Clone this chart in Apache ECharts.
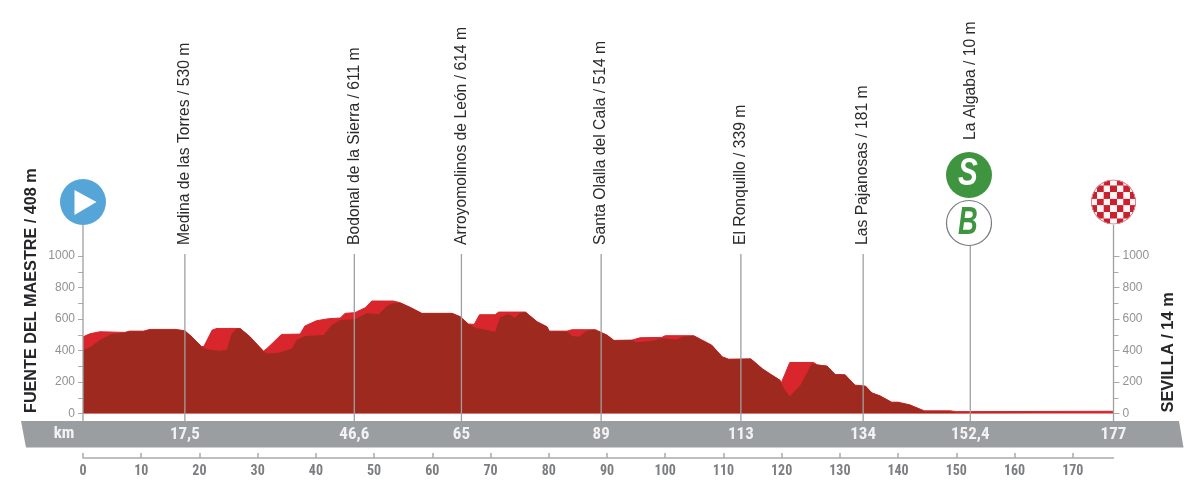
<!DOCTYPE html>
<html><head><meta charset="utf-8">
<style>html,body{margin:0;padding:0;background:#fff}#c{width:1200px;height:489px}</style>
<script src="https://cdn.jsdelivr.net/npm/echarts@6/dist/echarts.min.js"></script>
</head><body><div id="c"></div>
<script>
const profileTop = [[0,487],[1.2,506],[2.9,519],[7.2,515],[8,523],[10.4,523],[11.5,534],[16,534],[17.5,525],[18.7,487],[20.4,424],[20.8,428],[22.2,530],[23,540],[27,540],[28.7,487],[31,396],[31.6,413],[34.1,502],[37.3,504],[38.1,555],[40.1,589],[42.2,602],[44.2,606],[45,636],[46.7,640],[48.5,672],[49.6,714],[53.3,714],[54.5,703],[56.2,674],[58.2,636],[63.4,636],[64.8,615],[66.2,568],[67.2,566],[68.1,627],[70.8,627],[71.4,644],[76,644],[78,583],[79.7,551],[80.1,523],[83.1,523],[84,532],[88,532],[90,498],[91.2,464],[94.3,466],[95.7,481],[99.4,483],[100,494],[104.9,494],[108,434],[109.8,360],[110.9,345],[114.7,347],[116.7,284],[118.1,250],[119.7,212],[119.9,191],[121.4,324],[125.5,324],[126.1,309],[127.8,301],[129.2,248],[130.9,246],[132.6,180],[134.4,174],[135.5,131],[136.9,112],[138.9,72],[140,72],[142,55],[144.5,17],[148.9,17],[150,12],[152.4,12],[177,14]];
const profileShade = [[0,403],[1.2,420],[2.9,466],[4.9,504],[7.2,515],[8,523],[10.4,523],[11.5,534],[16,534],[17.5,525],[18.7,487],[20.4,424],[21.5,407],[23.5,398],[24.7,407],[25.5,504],[26.4,540],[27,540],[28.7,487],[31,396],[31.6,381],[33.6,386],[35.9,413],[36.7,466],[38.1,492],[41.3,498],[42.7,562],[44.2,593],[46.7,598],[48.7,636],[50.8,632],[52.2,682],[53,699],[54.5,703],[56.2,674],[58.2,636],[63.4,636],[64.8,615],[66.2,568],[67.4,545],[69.4,530],[70.8,519],[71.6,610],[73,631],[74.2,608],[75,636],[76,644],[78,583],[79.7,551],[80.1,523],[83.1,523],[84,492],[85.2,487],[86.3,519],[87.2,530],[88,532],[90,498],[91.2,464],[94.3,466],[95.1,453],[97.9,462],[99.4,477],[102,470],[103,487],[104.9,494],[108,434],[109.8,360],[110.9,345],[114.7,347],[116.7,284],[118.1,250],[119.7,212],[120.4,159],[121.4,110],[122.4,148],[123.2,180],[125.2,318],[125.5,324],[126.1,309],[127.8,301],[129.2,248],[130.9,246],[132.6,180],[134.4,174],[135.5,131],[136.9,112],[138.9,72],[140,72],[142,55],[144.5,15],[148.9,15],[150,5],[177,6]];
const passKm = [0,17.5,46.6,65,89,113,134,152.4,177];
const passKmLabels = ['', '17,5','46,6','65','89','113','134','152,4','177'];
const passNames = ['', 'Medina de las Torres / 530 m','Bodonal de la Sierra / 611 m','Arroyomolinos de León / 614 m','Santa Olalla del Cala / 514 m','El Ronquillo / 339 m','Las Pajanosas / 181 m','La Algaba / 10 m',''];
const startLabel = 'FUENTE DEL MAESTRE / 408 m';
const finishLabel = 'SEVILLA / 14 m';
const kmWord = 'km';

const COND = '"Liberation Sans Narrow","Roboto Condensed","Liberation Sans",sans-serif';
const SANS = '"Liberation Sans",Arial,sans-serif';
const GREY = '#9b9ea1', AX = '#a9abae';
const X0 = 83, X1 = 1113.5;

// finish-flag checker drawn on a small canvas
function checker(){
  const s=4, R=23, cv=document.createElement('canvas');
  cv.width=cv.height=2*R*s;
  const g=cv.getContext('2d');
  g.scale(s,s);
  g.beginPath();g.arc(R,R,R-0.5,0,7);g.clip();
  g.fillStyle='#fdf3f3';g.fillRect(0,0,2*R,2*R);
  g.fillStyle='#c8202e';
  const c=6.6;
  for(let i=-4;i<=4;i++)for(let j=-4;j<=4;j++) if(((i+j)%2+2)%2==0) g.fillRect(R+(i-.5)*c,R+(j-.5)*c,c,c);
  g.strokeStyle='#d98a90';g.lineWidth=1;g.beginPath();g.arc(R,R,R-1,0,7);g.stroke();
  return cv;
}

const chart = echarts.init(document.getElementById('c'),null,{renderer:'canvas'});
const yLab = {color:'#909295',fontFamily:SANS,fontSize:12,formatter:v=>String(v)};
chart.setOption({
  animation:false,
  backgroundColor:'#fff',
  grid:{left:X0,right:1200-X1,top:256,bottom:75.5,containLabel:false},
  xAxis:{type:'value',min:0,max:177,interval:10,position:'bottom',offset:44.5,
    axisLine:{show:true,onZero:false,lineStyle:{color:AX,width:1.5}},
    axisTick:{show:true,inside:true,length:5,lineStyle:{color:AX,width:1.5}},
    axisLabel:{color:'#7b7d80',fontFamily:COND,fontWeight:'bold',fontSize:14,margin:6,showMaxLabel:false},
    splitLine:{show:false}},
  yAxis:[
   {type:'value',position:'left',min:0,max:1000,interval:200,
    axisLine:{show:false},
    axisTick:{show:true,length:5,lineStyle:{color:AX,width:1}},
    minorTick:{show:true,splitNumber:2,length:5,lineStyle:{color:AX,width:1}},
    axisLabel:Object.assign({margin:8},yLab),
    splitLine:{show:false}},
   {type:'value',position:'right',min:0,max:1000,interval:200,
    axisLine:{show:false},
    axisTick:{show:true,length:6,lineStyle:{color:AX,width:1}},
    minorTick:{show:true,splitNumber:2,length:5,lineStyle:{color:AX,width:1}},
    axisLabel:Object.assign({margin:9},yLab),
    splitLine:{show:false}}
  ],
  graphic:[
    {type:'polygon',z:0,silent:true,shape:{points:[[21,421],[1179,421],[1183.5,447.5],[26,447.5]]},style:{fill:GREY}},
    {type:'text',z:5,x:64,y:434,silent:true,style:{text:kmWord,fill:'#f2f2f2',font:'bold 17px '+COND,align:'center',verticalAlign:'middle'}},
    {type:'text',z:5,x:32,y:413,rotation:Math.PI/2,silent:true,style:{text:startLabel,fill:'#26262a',font:'bold 16.2px '+SANS,align:'left',verticalAlign:'middle'}},
    {type:'text',z:5,x:1168,y:412.5,rotation:Math.PI/2,silent:true,style:{text:finishLabel,fill:'#26262a',font:'bold 16.4px '+SANS,align:'left',verticalAlign:'middle'}},
    {type:'circle',z:5,silent:true,shape:{cx:83,cy:202,r:23},style:{fill:'#55a5d8'}},
    {type:'polygon',z:6,silent:true,shape:{points:[[74.5,190],[74.5,215],[96.5,202]]},style:{fill:'#fff'}},
    {type:'circle',z:5,silent:true,shape:{cx:969,cy:175,r:23},style:{fill:'#3f9440'}},
    {type:'text',z:6,x:968,y:175,scaleX:0.78,silent:true,style:{text:'S',fill:'#fff',font:'italic bold 38px '+SANS,align:'center',verticalAlign:'middle'}},
    {type:'circle',z:5,silent:true,shape:{cx:969,cy:223,r:22.5},style:{fill:'#fff',stroke:'#77797b',lineWidth:1.2}},
    {type:'text',z:6,x:968,y:224,scaleX:0.72,silent:true,style:{text:'B',fill:'#3f9440',font:'italic bold 38px '+SANS,align:'center',verticalAlign:'middle'}},
    {type:'image',z:5,silent:true,x:1113.5-23,y:179,style:{image:checker(),width:46,height:46}}
  ],
  series:[
    {type:'line',name:'top',data:profileTop,xAxisIndex:0,yAxisIndex:0,symbol:'none',smooth:false,z:2,
      lineStyle:{color:'#d5252c',width:1},areaStyle:{color:'#d9262c',opacity:1}},
    {type:'line',name:'shade',data:profileShade,symbol:'none',smooth:false,z:3,
      lineStyle:{width:0},areaStyle:{color:'#9e2a1f',opacity:1}},
    {type:'custom',name:'passes',z:4,silent:true,clip:false,coordinateSystem:'cartesian2d',
      data:passKm.map((k,i)=>[k,i]),
      encode:{x:0,y:1},
      renderItem:function(params,api){
        const i=api.value(1), k=api.value(0), x=api.coord([k,0])[0];
        const isEnd = i===0||i===passKm.length-1, isSprint = i===passKm.length-2;
        const top = isEnd?225:(isSprint?245:254);
        const kids=[{type:'line',shape:{x1:x,y1:top,x2:x,y2:421},style:{stroke:'#9d9fa2',lineWidth:1.3}}];
        if(passNames[i]) kids.push({type:'text',x:x,y:isSprint?140:245,rotation:Math.PI/2,
          style:{text:passNames[i],fill:'#2a2a2c',font:'15.7px '+SANS,align:'left',verticalAlign:'middle'}});
        if(passKmLabels[i]) kids.push({type:'text',x:x,y:434.5,
          style:{text:passKmLabels[i],fill:'#f2f2f2',font:'bold 17px '+COND,align:'center',verticalAlign:'middle'}});
        return {type:'group',children:kids};
      }}
  ]
});
</script></body></html>
